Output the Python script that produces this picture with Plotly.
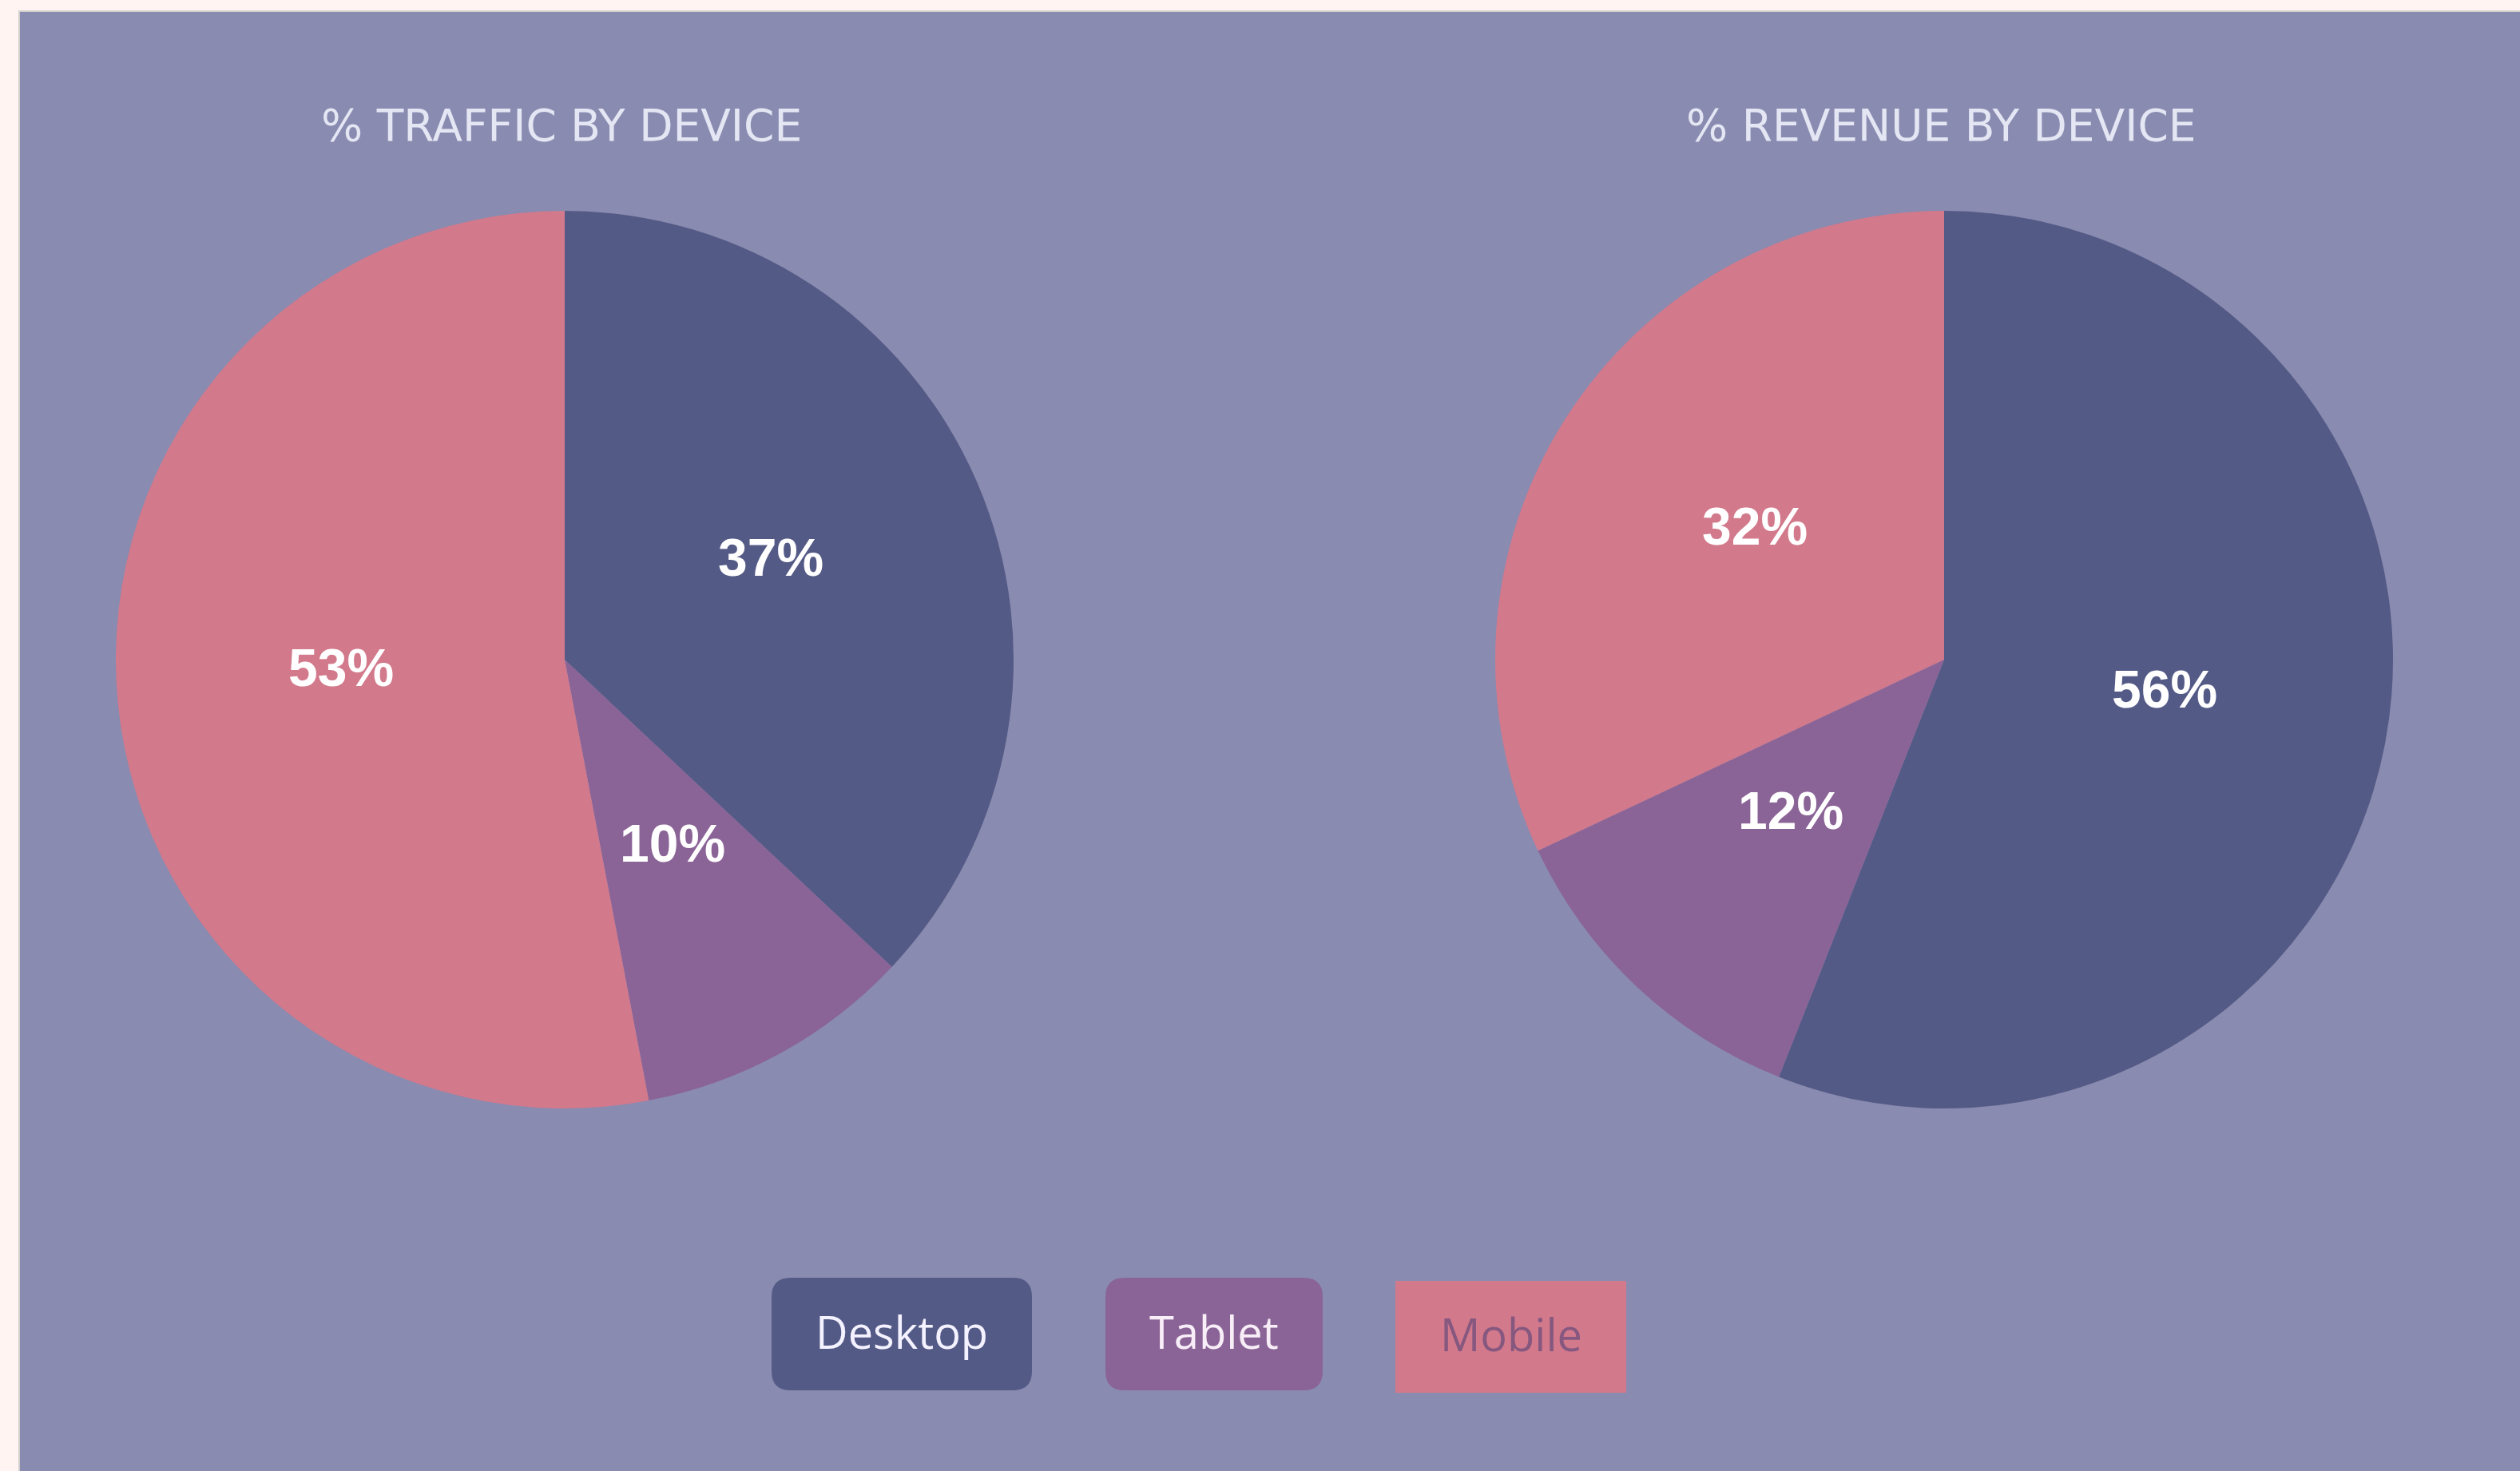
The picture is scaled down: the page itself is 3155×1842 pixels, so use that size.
import math
import plotly.graph_objects as go

# ---- data ----
devices = ["Desktop", "Tablet", "Mobile"]
traffic_share = [37, 10, 53]
revenue_share = [56, 12, 32]
chart_titles = ["% TRAFFIC BY DEVICE", "% REVENUE BY DEVICE"]

# ---- styling ----
W, H = 3155, 1842
device_colors = ["#545A86", "#8B6497", "#D2798C"]
legend_text_colors = ["#F4F2FF", "#F8EEF8", "#86587F"]
panel_color = "#898BB0"
page_color = "#FFF4F1"


def px_x(x):
    return x / W


def px_y(y):
    return 1 - y / H


def rounded_rect(x0, y0, x1, y1, r):
    """SVG path (paper coords) for a rectangle with rounded corners given in pixels."""
    if r <= 0:
        pts = [(x0, y0), (x1, y0), (x1, y1), (x0, y1)]
        return "M " + " L ".join(f"{px_x(a)},{px_y(b)}" for a, b in pts) + " Z"
    return (
        f"M {px_x(x0 + r)},{px_y(y0)} "
        f"L {px_x(x1 - r)},{px_y(y0)} Q {px_x(x1)},{px_y(y0)} {px_x(x1)},{px_y(y0 + r)} "
        f"L {px_x(x1)},{px_y(y1 - r)} Q {px_x(x1)},{px_y(y1)} {px_x(x1 - r)},{px_y(y1)} "
        f"L {px_x(x0 + r)},{px_y(y1)} Q {px_x(x0)},{px_y(y1)} {px_x(x0)},{px_y(y1 - r)} "
        f"L {px_x(x0)},{px_y(y0 + r)} Q {px_x(x0)},{px_y(y0)} {px_x(x0 + r)},{px_y(y0)} Z"
    )


# pie placement (pixel centre, radius)
pie_centres = [(707, 826), (2434, 826)]
pie_radius = 562

fig = go.Figure()
annotations = []

for (cx, cy), values in zip(pie_centres, [traffic_share, revenue_share]):
    fig.add_trace(
        go.Pie(
            labels=devices,
            values=values,
            sort=False,
            direction="clockwise",
            rotation=0,
            marker=dict(colors=device_colors, line=dict(width=0)),
            textinfo="none",
            hoverinfo="label+percent",
            showlegend=False,
            domain=dict(
                x=[px_x(cx - pie_radius), px_x(cx + pie_radius)],
                y=[px_y(cy + pie_radius), px_y(cy - pie_radius)],
            ),
        )
    )
    # percentage labels: halfway out along each slice's middle angle
    total = sum(values)
    start = 0.0
    for v in values:
        mid = (start + v / 2) / total * 2 * math.pi  # clockwise from 12 o'clock
        start += v
        lx = cx + 0.5 * pie_radius * math.sin(mid)
        ly = cy - 0.5 * pie_radius * math.cos(mid)
        annotations.append(
            dict(x=px_x(lx), y=px_y(ly), xref="paper", yref="paper",
                 text=f"{round(v / total * 100)}%", showarrow=False,
                 xanchor="center", yanchor="middle", yshift=16,
                 font=dict(family="Liberation Sans", size=66, color="#FFFFFF", weight="bold"))
        )

shapes = [
    # framed panel behind the charts
    dict(
        type="rect", xref="paper", yref="paper",
        x0=px_x(24), x1=1.02, y0=-0.02, y1=px_y(14),
        fillcolor=panel_color, line=dict(color="#D4CFCF", width=2), layer="below",
    )
]

# legend chips
chip_boxes = [(966, 1600, 1292, 1741, 24), (1384, 1600, 1656, 1741, 24), (1747, 1604, 2036, 1744, 0)]
for (x0, y0, x1, y1, r), name, fill, tcol in zip(chip_boxes, devices, device_colors, legend_text_colors):
    shapes.append(
        dict(type="path", xref="paper", yref="paper", path=rounded_rect(x0, y0, x1, y1, r),
             fillcolor=fill, line=dict(width=0), layer="below")
    )
    annotations.append(
        dict(x=px_x((x0 + x1) / 2), y=px_y((y0 + y1) / 2 - 4), xref="paper", yref="paper",
             text=name, showarrow=False, xanchor="center", yanchor="middle",
             font=dict(family="Open Sans", size=56, color=tcol, weight=500))
    )

# chart titles above each pie
for (cx, _), title in zip(pie_centres, chart_titles):
    annotations.append(
        dict(x=px_x(cx - 4), y=px_y(157), xref="paper", yref="paper", text=title,
             showarrow=False, xanchor="center", yanchor="middle",
             font=dict(family="DejaVu Sans", size=55, color="#E4E6F4"))
    )

fig.update_layout(
    width=W,
    height=H,
    margin=dict(l=0, r=0, t=0, b=0),
    paper_bgcolor=page_color,
    plot_bgcolor=page_color,
    shapes=shapes,
    annotations=annotations,
)

fig.write_html("out.html")
